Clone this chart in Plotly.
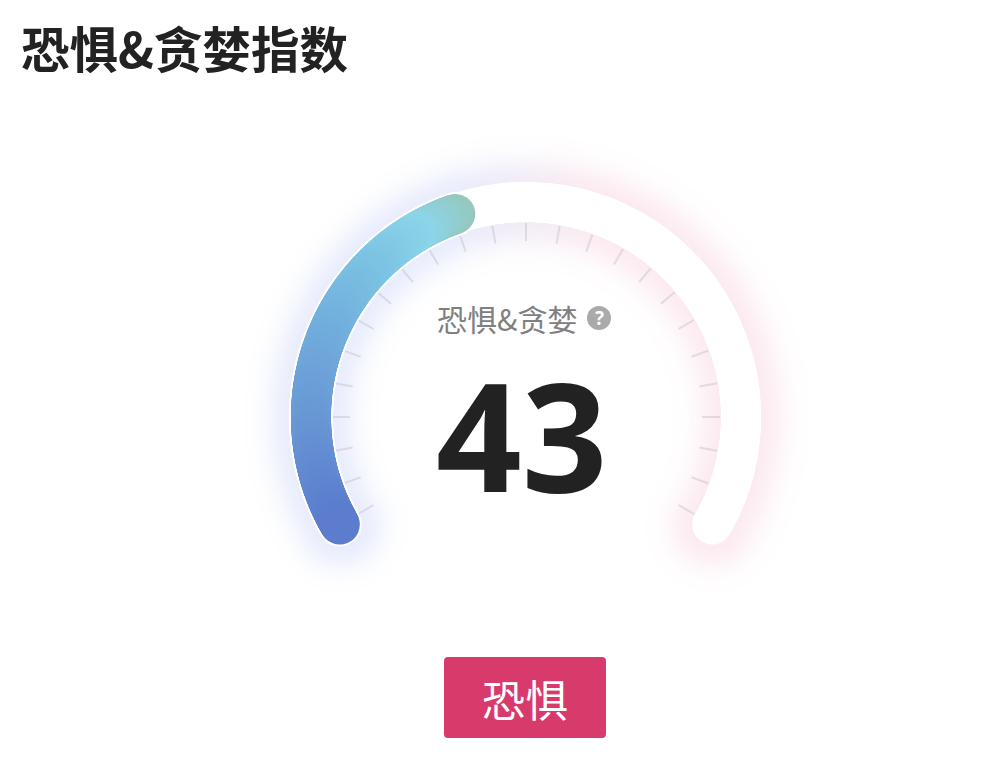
import numpy as np
import plotly.graph_objects as go

# gauge values
gauge_label = "恐惧&贪婪"
gauge_value = 43
arc_value = 42  # the drawn arc stops a little short of the printed number
gauge_min = 0
gauge_max = 100
tick_values = [100 * i / 24 for i in range(25)]
arc_stop_values = [0, 10, 20, 30, 37, 42]
arc_stop_colors = [(92, 125, 206), (104, 150, 213), (113, 172, 220), (125, 196, 228), (141, 213, 233), (150, 200, 190)]

title_text = "恐惧&贪婪指数"
status_text = "恐惧"

CX, CY = 526, 417
R_MID = 215
RING = 40
START, END = 210, -30
CJK = "Noto Sans CJK SC"


def to_angle(v):
    return START + (v - gauge_min) / (gauge_max - gauge_min) * (END - START)


def polar_xy(v, r):
    a = np.radians(to_angle(np.asarray(v, dtype=float)))
    return CX + r * np.cos(a), CY - r * np.sin(a)


# soft shadow round the ring, blue on the left and pink on the right
px0, px1, py0, py1 = 220, 830, 110, 620
gx, gy = np.meshgrid(np.arange(px0, px1), np.arange(py0, py1))
rr = np.hypot(gx - CX, gy - CY)
ang = np.degrees(np.arctan2(CY - gy, gx - CX))
ang = np.where(ang < -90, ang + 360, ang)
ex0, ey0 = polar_xy(gauge_min, R_MID)
ex1, ey1 = polar_xy(gauge_max, R_MID)
inside = (ang <= START) & (ang >= END)
dist = np.where(inside, np.abs(rr - R_MID),
                np.minimum(np.hypot(gx - ex0, gy - ey0), np.hypot(gx - ex1, gy - ey1))) - RING / 2
dist = np.clip(dist, 0, None)
glow = np.exp(-(dist / 25.0) ** 2)
t = np.clip((gx - 450) / 150.0, 0, 1)[..., None]
blue = np.array([233, 237, 252.0])
pink = np.array([252, 236, 241.0])
tint = blue * (1 - t) + pink * t
img = 255 - glow[..., None] * (255 - tint)

fig = go.Figure()
fig.add_trace(go.Image(z=np.round(img).astype(np.uint8), x0=px0, y0=py0, dx=1, dy=1, hoverinfo="skip"))

# tick marks
tx, ty = [], []
for v in tick_values:
    x0, y0 = polar_xy(v, 176)
    x1, y1 = polar_xy(v, 194)
    tx += [float(x0), float(x1), None]
    ty += [float(y0), float(y1), None]
fig.add_trace(go.Scatter(x=tx, y=ty, mode="lines", hoverinfo="skip",
                         line=dict(color="rgba(190,185,200,0.42)", width=2)))

# white track
track = np.linspace(gauge_min, gauge_max, 500)
xs, ys = polar_xy(track, R_MID)
fig.add_trace(go.Scatter(x=xs, y=ys, mode="markers", hoverinfo="skip",
                         marker=dict(color="white", size=RING, line=dict(width=0))))

# coloured arc with a thin white edge, drawn from the tip back so the tip keeps its gradient
arc = np.linspace(arc_value, gauge_min, 300)
xs, ys = polar_xy(arc, R_MID)
fig.add_trace(go.Scatter(x=xs, y=ys, mode="markers", hoverinfo="skip",
                         marker=dict(color="white", size=RING + 4, line=dict(width=0))))
stops = np.array(arc_stop_colors, dtype=float)
cols = ["rgb(%d,%d,%d)" % tuple(np.interp(v, arc_stop_values, stops[:, i]) for i in range(3)) for v in arc]
fig.add_trace(go.Scatter(x=xs, y=ys, mode="markers", hoverinfo="skip",
                         marker=dict(color=cols, size=RING, line=dict(width=0))))

# help icon
fig.add_trace(go.Scatter(x=[599], y=[318], mode="markers", hoverinfo="skip",
                         marker=dict(color="#aaaaaa", size=24, line=dict(width=0))))
fig.add_annotation(x=599, y=318, text="<b>?</b>", showarrow=False, xanchor="center", yanchor="middle",
                   font=dict(family="Noto Sans", size=19, color="white"))

# status badge
fig.add_shape(type="path", layer="below", fillcolor="#d83a6c", line_width=0,
              path="M 448 657 H 602 Q 606 657 606 661 V 734 Q 606 738 602 738 H 448 Q 444 738 444 734 V 661 Q 444 657 448 657 Z")

fig.add_annotation(x=19, y=47, text="<b>%s</b>" % title_text, showarrow=False, xanchor="left", yanchor="middle",
                   font=dict(family=CJK, size=48.5, color="#222222"))
fig.add_annotation(x=507, y=318, text=gauge_label, showarrow=False, xanchor="center", yanchor="middle",
                   font=dict(family=CJK, size=30, color="#808080"))
fig.add_annotation(x=522, y=434, text="<b>%d</b>" % gauge_value, showarrow=False, xanchor="center", yanchor="middle",
                   font=dict(family="Noto Sans", size=150, color="#222222"))
fig.add_annotation(x=525, y=698, text=status_text, showarrow=False, xanchor="center", yanchor="middle",
                   font=dict(family=CJK, size=43, color="white"))

fig.update_layout(width=1000, height=760, margin=dict(l=0, r=0, t=0, b=0), showlegend=False,
                  paper_bgcolor="white", plot_bgcolor="white",
                  xaxis=dict(range=[0, 1000], visible=False, fixedrange=True),
                  yaxis=dict(range=[760, 0], visible=False, fixedrange=True))

fig.write_html("out.html", config=dict(displayModeBar=False), post_script="document.body.style.margin='0';")
